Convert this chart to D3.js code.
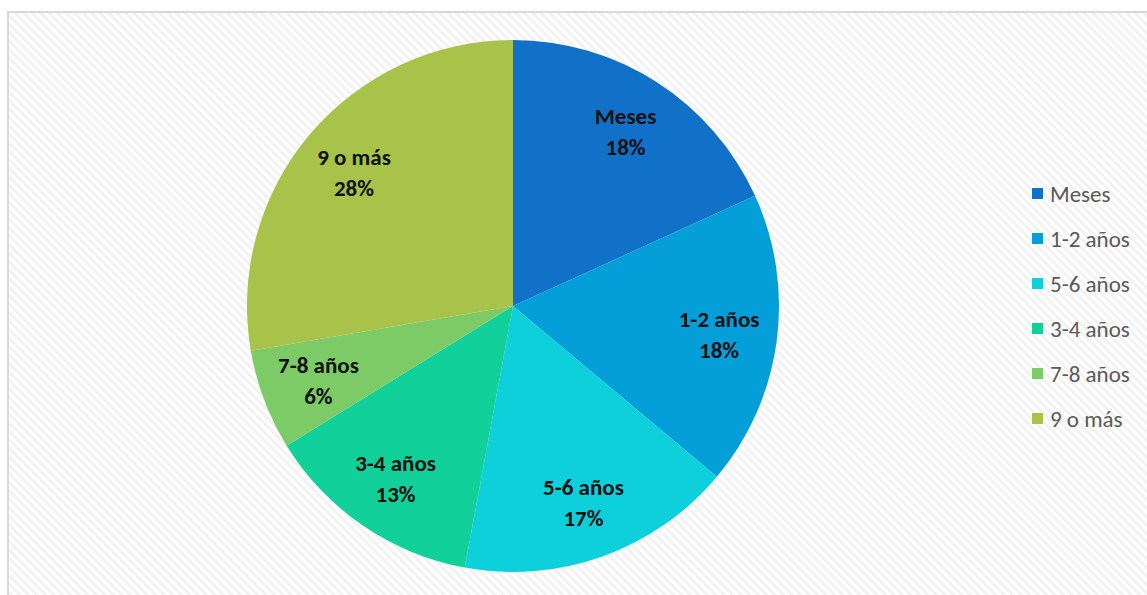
<!DOCTYPE html>
<html><head><meta charset="utf-8">
<script src="https://cdn.jsdelivr.net/npm/d3@7"></script>
<style>body{margin:0;background:#fff;}svg{display:block;}</style>
</head><body>
<svg id="c" width="1147" height="595"></svg>
<script>
const categories = ["Meses", "1-2 años", "5-6 años", "3-4 años", "7-8 años", "9 o más"];
const values = [18.2, 17.9, 16.8, 13.3, 6.1, 27.7];
const percentLabels = ["18%", "18%", "17%", "13%", "6%", "28%"];
const colors = ["#1170c8", "#049fd9", "#0dd0da", "#12d09a", "#7ccb66", "#a9c24a"];

const svg = d3.select("#c");
const defs = svg.append("defs");
const pat = defs.append("pattern").attr("id","stripes").attr("patternUnits","userSpaceOnUse")
  .attr("width",6).attr("height",6).attr("patternTransform","rotate(-45)");
pat.append("rect").attr("width",6).attr("height",6).attr("fill","#ffffff");
pat.append("rect").attr("width",3).attr("height",6).attr("fill","#f2f2f2");

svg.append("rect").attr("x",8).attr("y",12).attr("width",1150).attr("height",600)
  .attr("fill","url(#stripes)").attr("stroke","#d9d9d9").attr("stroke-width",2);

const cx = 513, cy = 306, r = 266;
const pie = d3.pie().sort(null).value(d => d)(values);
const arc = d3.arc().innerRadius(0).outerRadius(r);
const labelArc = d3.arc().innerRadius(208).outerRadius(208);
const g = svg.append("g").attr("transform",`translate(${cx},${cy})`);
g.selectAll("path").data(pie).join("path").attr("d",arc).attr("fill",(d,i)=>colors[i]);

const font = "Carlito, Lato, 'Open Sans', 'Liberation Sans', sans-serif";
const lab = g.selectAll("text.l").data(pie).join("text").attr("class","l")
  .attr("transform",d=>`translate(${labelArc.centroid(d)})`)
  .attr("text-anchor","middle")
  .attr("font-family",font)
  .attr("font-weight","bold").attr("font-size",23).attr("fill","#111");
lab.append("tspan").attr("x",0).attr("y",-7).text((d,i)=>categories[i]);
lab.append("tspan").attr("x",0).attr("y",24).text((d,i)=>percentLabels[i]);

const leg = svg.append("g").attr("transform","translate(1032,194)");
const items = leg.selectAll("g").data(categories).join("g").attr("transform",(d,i)=>`translate(0,${i*45})`);
items.append("rect").attr("x",0).attr("y",-6).attr("width",11).attr("height",11).attr("fill",(d,i)=>colors[i]);
items.append("text").attr("x",18).attr("y",8).attr("font-family",font)
  .attr("font-size",23).attr("fill","#595959").text(d=>d);
</script>
</body></html>
